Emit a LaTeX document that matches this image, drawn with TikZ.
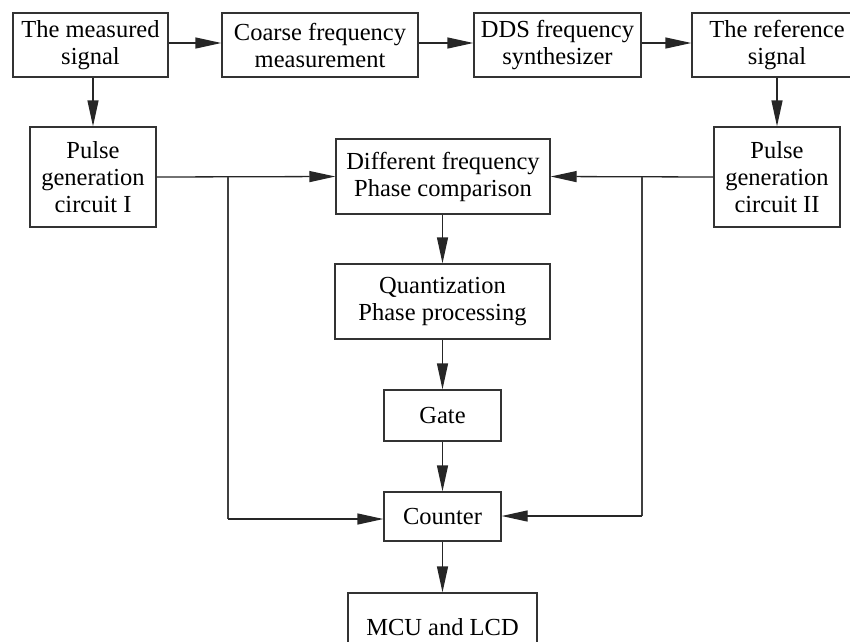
\documentclass[tikz,border=0pt]{standalone}
\usepackage{fontspec}
\setmainfont{Liberation Serif}
\usetikzlibrary{arrows.meta}
\begin{document}
\begin{tikzpicture}[x=1pt,y=-1pt,
  box/.style={draw=black!80, line width=1.3pt, inner sep=0pt, align=center,
    font=\fontsize{24.5}{27}\selectfont},
  arr/.style={draw=black!85, line width=1.3pt, -{Triangle[length=26pt,width=11pt]}},
  ln/.style={draw=black!75, line width=1.3pt}]
\useasboundingbox (0,0) rectangle (850,641);
\clip (0,0) rectangle (850,641);
\node[box, minimum width=155pt, minimum height=64pt] (ms) at (90.5,45) {The measured\\signal};
\node[box, minimum width=196pt, minimum height=64pt] (cf) at (320,45) {Coarse frequency\\measurement};
\node[box, minimum width=167pt, minimum height=64pt] (dds) at (557.5,45) {DDS frequency\\synthesizer};
\node[box, minimum width=170pt, minimum height=64pt] (rs) at (777,45) {The reference\\signal};
\node[box, minimum width=126pt, minimum height=100pt] (p1) at (93,177) {Pulse\\generation\\circuit I};
\node[box, minimum width=126pt, minimum height=100pt] (p2) at (777,177) {Pulse\\generation\\circuit II};
\node[box, minimum width=214pt, minimum height=75pt] (df) at (443,176.5) {Different frequency\\Phase comparison};
\node[box, minimum width=215pt, minimum height=75pt] (qp) at (442.5,301.5) {Quantization\\Phase processing};
\node[box, minimum width=117pt, minimum height=51pt] (gt) at (442.5,415.5) {Gate};
\node[box, minimum width=117pt, minimum height=49pt] (ct) at (442.5,516.5) {Counter};
\node[box, minimum width=189pt, minimum height=68pt] (mcu) at (442.5,627) {MCU and LCD};
\coordinate (bl) at (228,177);
\coordinate (br) at (642,177);
\draw[arr] ([yshift=2pt]ms.east) -- ([yshift=2pt]cf.west);
\draw[arr] ([yshift=2pt]cf.east) -- ([yshift=2pt]dds.west);
\draw[arr] ([yshift=2pt]dds.east) -- ([yshift=2pt]rs.west);
\draw[arr] (p1.north |- ms.south) -- (p1.north);
\draw[arr] (rs.south) -- (p2.north);
\draw[arr] (p1.east) -- (df.west);
\draw[arr] (p2.west) -- (df.east);
\draw[arr] (df.south -| qp.north) -- (qp.north);
\draw[arr] (qp.south) -- (gt.north);
\draw[arr] (gt.south) -- (ct.north);
\draw[arr] (ct.south) -- (mcu.north);
\draw[ln] (bl) -- (bl |- 0,519);
\draw[arr] (bl |- 0,519) -- (ct.west |- 0,519);
\draw[ln] (br) -- (br |- 0,516);
\draw[arr] (br |- 0,516) -- (ct.east |- 0,516);
\end{tikzpicture}
\end{document}
